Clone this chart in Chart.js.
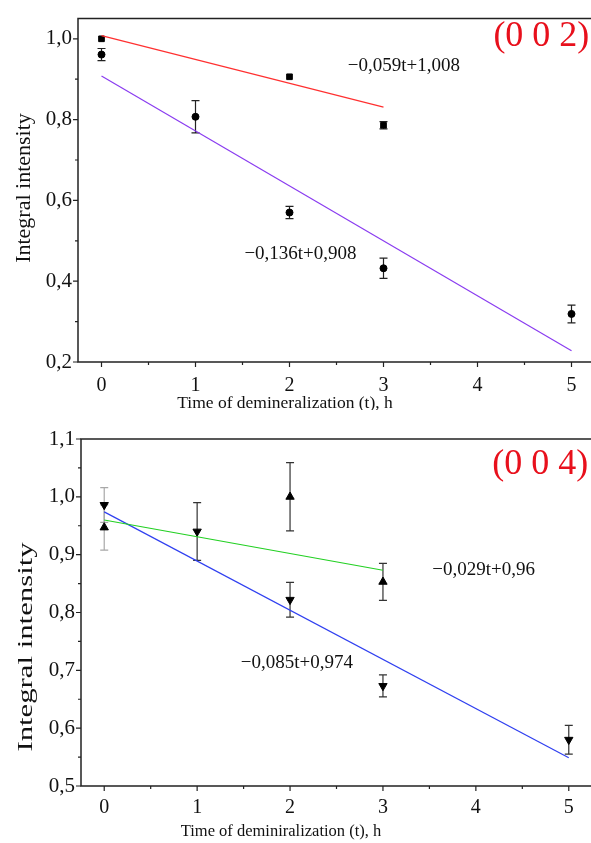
<!DOCTYPE html>
<html>
<head>
<meta charset="utf-8">
<script src="https://cdn.jsdelivr.net/npm/chart.js@4.4.1/dist/chart.umd.min.js"></script>
<style>
	html, body { margin: 0; padding: 0; background: #fff; }
	body { width: 591px; height: 843px; overflow: hidden; position: relative; }
	.panel { position: absolute; left: 0; }
	#top002 { top: 0; }
	#bot004 { top: 410px; }
</style>
</head>
<body>
<canvas id="top002" class="panel" width="600" height="410"></canvas>
<canvas id="bot004" class="panel" width="600" height="433"></canvas>
<script>
// (0 0 2) reflection
const sq002T = [0, 2, 3]
const sq002I = [1.0, 0.906, 0.786]
const sq002Err = [0, 0, 0.009]
const ci002T = [0, 1, 2, 3, 5]
const ci002I = [0.961, 0.807, 0.570, 0.432, 0.319]
const ci002Err = [0.015, 0.04, 0.015, 0.025, 0.022]
const fitRed002T = [0, 3]
const fitRed002I = [1.008, 0.831]
const fitViolet002T = [0, 5]
const fitViolet002I = [0.908, 0.228]

// (0 0 4) reflection
const up004T = [0, 2, 3]
const up004I = [0.947, 1.0, 0.853]
const up004Err = [0.039, 0.059, 0.032]
const down004T = [0, 1, 2, 3, 5]
const down004I = [0.986, 0.940, 0.822, 0.673, 0.580]
const down004Err = [0.03, 0.05, 0.03, 0.019, 0.025]
const fitGreen004T = [0, 3]
const fitGreen004I = [0.96, 0.873]
const fitBlue004T = [0, 5]
const fitBlue004I = [0.974, 0.549]

const xTicks = [0, 1, 2, 3, 4, 5]
const xMinor = [0.5, 1.5, 2.5, 3.5, 4.5]
const yTicks002 = [0.2, 0.4, 0.6, 0.8, 1.0]
const yMinor002 = [0.3, 0.5, 0.7, 0.9]
const yTicks004 = [0.5, 0.6, 0.7, 0.8, 0.9, 1.0, 1.1]
const yMinor004 = [0.55, 0.65, 0.75, 0.85, 0.95, 1.05]

const SERIF = "'Liberation Serif', 'Times New Roman', serif"

function pts(xs, ys) {
	return xs.map((x, i) => ({ x, y: ys[i] }))
}

const decor = {
	id: "decor",
	beforeDatasetsDraw(chart, args, opts) {
		const { ctx, scales: { x, y } } = chart
		ctx.save()
		ctx.lineWidth = 1.2;
		(opts.bars || []).forEach((b) => {
			b.t.forEach((t, i) => {
				const e = b.e[i]
				if (!e) return
				const px = x.getPixelForValue(t)
				const top = y.getPixelForValue(b.v[i] + e)
				const bot = y.getPixelForValue(b.v[i] - e)
				ctx.strokeStyle = b.color(t)
				ctx.beginPath()
				ctx.moveTo(px, top); ctx.lineTo(px, bot)
				ctx.moveTo(px - 4, top); ctx.lineTo(px + 4, top)
				ctx.moveTo(px - 4, bot); ctx.lineTo(px + 4, bot)
				ctx.stroke()
			})
		})
		ctx.restore()
	},
	afterDraw(chart, args, opts) {
		const { ctx, chartArea: a, scales: { x, y } } = chart
		ctx.save()
		ctx.strokeStyle = "#222"
		ctx.lineWidth = 1.5
		// frame: right side is cut off in the original
		ctx.beginPath()
		ctx.moveTo(a.right + 2, a.top)
		ctx.lineTo(a.left, a.top)
		ctx.lineTo(a.left, a.bottom)
		ctx.lineTo(a.right + 2, a.bottom)
		ctx.stroke()
		ctx.lineWidth = 1.2
		ctx.beginPath()
		xTicks.forEach((v) => { const p = x.getPixelForValue(v); ctx.moveTo(p, a.bottom); ctx.lineTo(p, a.bottom + 5) })
		xMinor.forEach((v) => { const p = x.getPixelForValue(v); ctx.moveTo(p, a.bottom); ctx.lineTo(p, a.bottom + 3) })
		opts.yMajor.forEach((v) => { const p = y.getPixelForValue(v); ctx.moveTo(a.left, p); ctx.lineTo(a.left - 5, p) })
		opts.yMinor.forEach((v) => { const p = y.getPixelForValue(v); ctx.moveTo(a.left, p); ctx.lineTo(a.left - 3, p) })
		ctx.stroke()

		ctx.textBaseline = "middle";
		(opts.notes || []).forEach((n) => {
			ctx.font = n.font
			ctx.fillStyle = n.color
			ctx.textAlign = n.align
			ctx.fillText(n.text, x.getPixelForValue(n.x), y.getPixelForValue(n.y))
		})

		// axis titles
		const xt = opts.xTitle
		ctx.font = xt.font
		ctx.fillStyle = "#111"
		ctx.textAlign = "center"
		ctx.fillText(xt.text, xt.cx, xt.cy)
		const yt = opts.yTitle
		ctx.translate(yt.cx, yt.cy)
		ctx.rotate(-Math.PI / 2)
		ctx.scale(yt.stretch, 1)
		ctx.font = yt.font
		ctx.fillText(yt.text, 0, 0)
		ctx.restore()
	},
}

function makeChart(id, cfg) {
	return new Chart(document.getElementById(id), {
		type: "scatter",
		data: { datasets: cfg.datasets },
		options: {
			responsive: false,
			animation: false,
			devicePixelRatio: 1,
			layout: { padding: cfg.padding },
			plugins: {
				legend: { display: false },
				tooltip: { enabled: false },
				decor: cfg.decor,
			},
			scales: {
				x: {
					type: "linear",
					min: -0.25,
					max: 5.25,
					grid: { display: false, drawTicks: false },
					border: { display: false },
					afterBuildTicks: (s) => { s.ticks = xTicks.map((v) => ({ value: v })) },
					afterFit: (s) => { s.height = cfg.xHeight },
					ticks: {
						padding: cfg.xPad,
						color: "#111",
						font: { family: SERIF, size: 20 },
						maxRotation: 0,
						autoSkip: false,
						callback: (v) => String(v),
					},
				},
				y: {
					type: "linear",
					min: cfg.yMin,
					max: cfg.yMax,
					grid: { display: false, drawTicks: false },
					border: { display: false },
					afterBuildTicks: (s) => { s.ticks = cfg.yTicks.map((v) => ({ value: v })) },
					afterFit: (s) => { s.width = cfg.yWidth },
					ticks: {
						padding: 6,
						color: "#111",
						font: { family: SERIF, size: 21 },
						autoSkip: false,
						callback: (v) => Number(v).toFixed(1).replace(".", ","),
					},
				},
			},
		},
		plugins: [decor],
	})
}

const lineDs = (xs, ys, color) => ({
	data: pts(xs, ys), showLine: true, borderColor: color, borderWidth: 1.2, pointRadius: 0, fill: false,
})
const markDs = (xs, ys, style, radius, rotation) => ({
	data: pts(xs, ys), showLine: false, pointStyle: style, pointRadius: radius, pointRotation: rotation || 0,
	backgroundColor: "#000", borderColor: "#000", borderWidth: 1,
})

makeChart("top002", {
	padding: { top: 11, right: 4, left: 0, bottom: 0 },
	xHeight: 48,
	yWidth: 78,
	xPad: 12,
	yMin: 0.2,
	yMax: 1.05,
	yTicks: yTicks002,
	datasets: [
		lineDs(fitRed002T, fitRed002I, "#ff3030"),
		lineDs(fitViolet002T, fitViolet002I, "#8a3cf0"),
		markDs(sq002T, sq002I, "rect", 4),
		markDs(ci002T, ci002I, "circle", 3.5),
	],
	decor: {
		yMajor: yTicks002,
		yMinor: yMinor002,
		bars: [
			{ t: sq002T, v: sq002I, e: sq002Err, color: () => "#222" },
			{ t: ci002T, v: ci002I, e: ci002Err, color: () => "#222" },
		],
		notes: [
			{ text: "\u22120,059t+1,008", x: 2.62, y: 0.932, align: "left", font: `19px ${SERIF}`, color: "#111" },
			{ text: "\u22120,136t+0,908", x: 1.52, y: 0.468, align: "left", font: `19px ${SERIF}`, color: "#111" },
			{ text: "(0 0 2)", x: 5.19, y: 1.005, align: "right", font: `36px ${SERIF}`, color: "#e8101c" },
		],
		xTitle: { text: "Time of demineralization (t), h", cx: 285, cy: 403, font: `17.5px ${SERIF}` },
		yTitle: { text: "Integral intensity", cx: 24, cy: 188, stretch: 1, font: `22px ${SERIF}` },
	},
})

makeChart("bot004", {
	padding: { top: 29, right: 8, left: 0, bottom: 0 },
	xHeight: 57,
	yWidth: 81,
	xPad: 10,
	yMin: 0.5,
	yMax: 1.1,
	yTicks: yTicks004,
	datasets: [
		lineDs(fitGreen004T, fitGreen004I, "#22d022"),
		lineDs(fitBlue004T, fitBlue004I, "#3040f0"),
		markDs(up004T, up004I, "triangle", 4.8),
		markDs(down004T, down004I, "triangle", 4.8, 180),
	],
	decor: {
		yMajor: yTicks004,
		yMinor: yMinor004,
		bars: [
			{ t: up004T, v: up004I, e: up004Err, color: (t) => (t === 0 ? "#a8a8a8" : "#333") },
			{ t: down004T, v: down004I, e: down004Err, color: (t) => (t === 0 ? "#a8a8a8" : "#333") },
		],
		notes: [
			{ text: "\u22120,029t+0,96", x: 3.53, y: 0.873, align: "left", font: `19px ${SERIF}`, color: "#111" },
			{ text: "\u22120,085t+0,974", x: 1.47, y: 0.712, align: "left", font: `19px ${SERIF}`, color: "#111" },
			{ text: "(0 0 4)", x: 5.21, y: 1.055, align: "right", font: `36px ${SERIF}`, color: "#e8101c" },
		],
		xTitle: { text: "Time of deminiralization (t), h", cx: 281, cy: 422, font: `16.5px ${SERIF}` },
		yTitle: { text: "Integral intensity", cx: 27, cy: 237, stretch: 1.5, font: `20.5px ${SERIF}` },
	},
})
</script>
</body>
</html>
